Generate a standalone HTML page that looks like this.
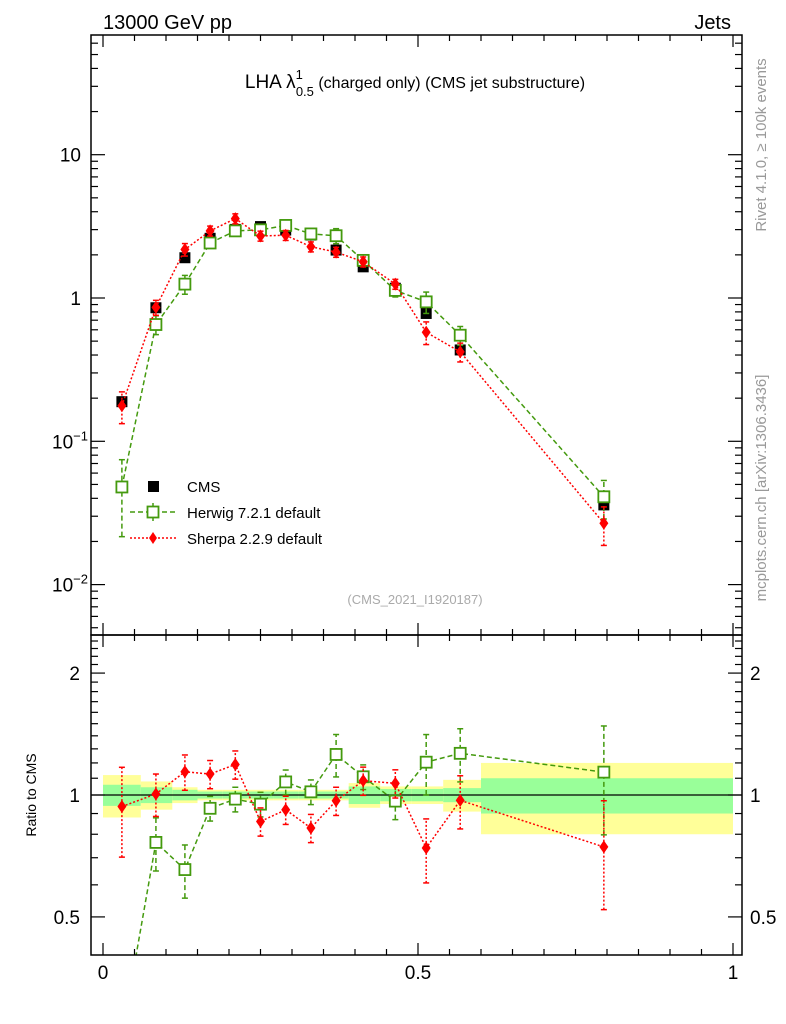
<!DOCTYPE html>
<html><head><meta charset="utf-8"><style>
html,body{margin:0;padding:0;background:#fff;overflow:hidden;width:786px;height:1024px;}
svg{display:block;font-family:"Liberation Sans",sans-serif;}
</style></head><body>
<svg id="c" width="786" height="1024" viewBox="0 0 786 1024" xmlns="http://www.w3.org/2000/svg">
<g id="bands"></g>
<g id="marks"></g>
<g id="axes"></g>
<text x="103" y="29" font-size="20">13000 GeV pp</text>
<text x="731" y="29" font-size="20" text-anchor="end">Jets</text>
<text x="415" y="88" font-size="19" text-anchor="middle">LHA λ<tspan font-size="13" dy="-9">1</tspan><tspan font-size="13" dx="-7" dy="17">0.5</tspan><tspan font-size="16" dy="-8"> (charged only) (CMS jet substructure)</tspan></text>
<text x="415" y="604" font-size="13" fill="#aaaaaa" text-anchor="middle">(CMS_2021_I1920187)</text>
<text transform="translate(766,145) rotate(-90)" font-size="15" fill="#999" text-anchor="middle">Rivet 4.1.0, ≥ 100k events</text>
<text transform="translate(766,488) rotate(-90)" font-size="15" fill="#999" text-anchor="middle">mcplots.cern.ch [arXiv:1306.3436]</text>
<text transform="translate(36,795) rotate(-90)" font-size="14" text-anchor="middle">Ratio to CMS</text>
<g>
<rect x="148" y="481" width="11" height="11" fill="#000"/>
<text x="187" y="492" font-size="15">CMS</text>
<line x1="130" y1="512" x2="176" y2="512" stroke="#449a0e" stroke-width="1.5" stroke-dasharray="5,3"/>
<line x1="153" y1="503" x2="153" y2="521" stroke="#449a0e" stroke-width="1.5" stroke-dasharray="3,2"/>
<rect x="147.5" y="506.5" width="11" height="11" fill="#fff" stroke="#449a0e" stroke-width="1.8"/>
<text x="187" y="518" font-size="15">Herwig 7.2.1 default</text>
<line x1="130" y1="538" x2="176" y2="538" stroke="#f00" stroke-width="1.5" stroke-dasharray="2,2"/>
<polygon points="153,532 157,538 153,544 149,538" fill="#f00"/>
<text x="187" y="544" font-size="15">Sherpa 2.2.9 default</text>
</g>
</svg>
<script>
const binEdges=[0,0.06,0.11,0.15,0.19,0.23,0.27,0.31,0.35,0.39,0.44,0.49,0.54,0.6,1];
const xCenters=[0.03,0.084,0.13,0.17,0.21,0.25,0.29,0.33,0.37,0.413,0.464,0.513,0.567,0.795];
const cmsVals=[0.189,0.855,1.91,2.61,3.01,3.15,2.98,2.75,2.16,1.65,1.17,0.78,0.434,0.036];
const herwigVals=[0.048,0.653,1.25,2.42,2.94,2.99,3.21,2.80,2.72,1.83,1.13,0.94,0.55,0.041];
const sherpaVals=[0.177,0.86,2.18,2.94,3.58,2.71,2.74,2.28,2.09,1.79,1.25,0.577,0.421,0.0268];
const herwigErr=[0.55,0.15,0.15,0.07,0.07,0.07,0.07,0.07,0.12,0.07,0.1,0.17,0.15,0.3];
const sherpaErr=[0.25,0.12,0.1,0.08,0.08,0.08,0.08,0.08,0.08,0.08,0.08,0.18,0.15,0.3];
const bandTotal=[0.12,0.08,0.045,0.03,0.03,0.03,0.03,0.03,0.03,0.07,0.05,0.05,0.09,0.2];
const bandStat=[0.06,0.045,0.03,0.02,0.02,0.02,0.02,0.02,0.02,0.05,0.035,0.035,0.04,0.1];
const ratioTicks=[0.5,1,2];

const NS="http://www.w3.org/2000/svg";
const X0=103,X1=733,L=91,R=742,T=35,MB=635,B=955;
const xs=v=>X0+(X1-X0)*v;
const ym=v=>298-143.3*Math.log10(v);
const yr=v=>795-405*Math.log10(v);
function mk(p,tag,a){const e=document.createElementNS(NS,tag);for(const k in a)e.setAttribute(k,a[k]);p.appendChild(e);return e;}
const bands=document.getElementById('bands'),marks=document.getElementById('marks'),axes=document.getElementById('axes');
const svg=document.getElementById('c');
const defs=mk(svg,'defs',{});
const cp1=mk(defs,'clipPath',{id:'cm'});mk(cp1,'rect',{x:L,y:T,width:R-L,height:MB-T});
const cp2=mk(defs,'clipPath',{id:'cr'});mk(cp2,'rect',{x:L,y:MB,width:R-L,height:B-MB});
for(let i=0;i<14;i++){
 const x1=xs(binEdges[i]),x2=xs(binEdges[i+1]);
 const r=mk(bands,'rect',{x:x1,y:yr(1+bandTotal[i]),width:x2-x1,height:yr(1-bandTotal[i])-yr(1+bandTotal[i]),fill:'#ffff99'});
 
 
 const g=mk(bands,'rect',{x:x1,y:yr(1+bandStat[i]),width:x2-x1,height:yr(1-bandStat[i])-yr(1+bandStat[i]),fill:'#99ff99'});
 
 
}
mk(bands,'line',{x1:L,x2:R,y1:yr(1),y2:yr(1),stroke:'#000','stroke-width':1.2});
function series(vals,err,color,dash,kind,name,ratio){
 const g=mk(marks,'g',{'clip-path':ratio?'url(#cr)':'url(#cm)'});
 
 
 const yf=ratio?yr:ym;
 const v=vals.map((d,i)=>ratio?d/cmsVals[i]:d);
 mk(g,'polyline',{points:v.map((d,i)=>xs(xCenters[i])+','+yf(d)).join(' '),fill:'none',stroke:color,'stroke-width':1.5,'stroke-dasharray':dash});
 v.forEach((d,i)=>{
  const x=xs(xCenters[i]);
  const lo=Math.max(d*(1-err[i]),1e-4),hi=d*(1+err[i]);
  mk(g,'line',{x1:x,x2:x,y1:yf(lo),y2:yf(hi),stroke:color,'stroke-width':1.5,'stroke-dasharray':dash});
  mk(g,'line',{x1:x-3,x2:x+3,y1:yf(lo),y2:yf(lo),stroke:color,'stroke-width':1.5});
  mk(g,'line',{x1:x-3,x2:x+3,y1:yf(hi),y2:yf(hi),stroke:color,'stroke-width':1.5});
  const y=yf(d);let m;
  if(kind==='sq') m=mk(g,'rect',{x:x-5.5,y:y-5.5,width:11,height:11,fill:'#fff',stroke:color,'stroke-width':1.8});
  else m=mk(g,'polygon',{points:`${x},${y-6.5} ${x+4.5},${y} ${x},${y+6.5} ${x-4.5},${y}`,fill:color});
  
  
 });
}
cmsVals.forEach((d,i)=>{
 const m=mk(marks,'rect',{x:xs(xCenters[i])-5.5,y:ym(d)-5.5,width:11,height:11,fill:'#000'});
 
 
});
series(herwigVals,herwigErr,'#449a0e','5,3','sq','herwig-series',false);
series(sherpaVals,sherpaErr,'#ff0000','2,2','dia','sherpa-series',false);
series(herwigVals,herwigErr,'#449a0e','5,3','sq','herwig-ratio-series',true);
series(sherpaVals,sherpaErr,'#ff0000','2,2','dia','sherpa-ratio-series',true);
mk(axes,'rect',{x:L,y:T,width:R-L,height:MB-T,fill:'none',stroke:'#000','stroke-width':1.5});
mk(axes,'rect',{x:L,y:MB,width:R-L,height:B-MB,fill:'none',stroke:'#000','stroke-width':1.5});
for(let k=0;k<=20;k++){
 const x=xs(k*0.05),len=k%10===0?12:6;
 [[MB,1],[B,-1],[T,1],[MB,-1]].forEach(([y,s])=>mk(axes,'line',{x1:x,x2:x,y1:y,y2:y+s*len,stroke:'#000','stroke-width':1.2}));
}
['0','0.5','1'].forEach((t,i)=>{const e=mk(axes,'text',{x:xs(i*0.5),y:979,'font-size':19,'text-anchor':'middle'});e.textContent=t;
 
 });
for(let d=-3;d<=2;d++)for(let m=1;m<10;m++){
 const v=m*Math.pow(10,d),y=ym(v);if(y<T||y>MB)continue;
 const len=m===1?14:7;
 mk(axes,'line',{x1:L,x2:L+len,y1:y,y2:y,stroke:'#000','stroke-width':1.2});
 mk(axes,'line',{x1:R,x2:R-len,y1:y,y2:y,stroke:'#000','stroke-width':1.2});
}
[[10,'10',null],[1,'1',null],[0.1,'10','−1'],[0.01,'10','−2']].forEach(([v,b,e])=>{
 const t=mk(axes,'text',{x:e?70:81,y:ym(v)+7,'font-size':19,'text-anchor':e?'middle':'end'});
 t.textContent=b;
 if(e){const s=mk(t,'tspan',{'font-size':13,dy:-8});s.textContent=e;}
 
 
});
for(let k=3;k<=25;k++){
 const v=k/10,y=yr(v);if(y<MB||y>B)continue;
 const len=(v===0.5||v===1||v===2)?14:7;
 mk(axes,'line',{x1:L,x2:L+len,y1:y,y2:y,stroke:'#000','stroke-width':1.2});
 mk(axes,'line',{x1:R,x2:R-len,y1:y,y2:y,stroke:'#000','stroke-width':1.2});
}
ratioTicks.forEach(v=>{
 const a=mk(axes,'text',{x:80,y:yr(v)+7,'font-size':19,'text-anchor':'end'});a.textContent=String(v);
 
 
 const b=mk(axes,'text',{x:750,y:yr(v)+7,'font-size':19});b.textContent=String(v);
 
 
});
</script>
</body></html>
